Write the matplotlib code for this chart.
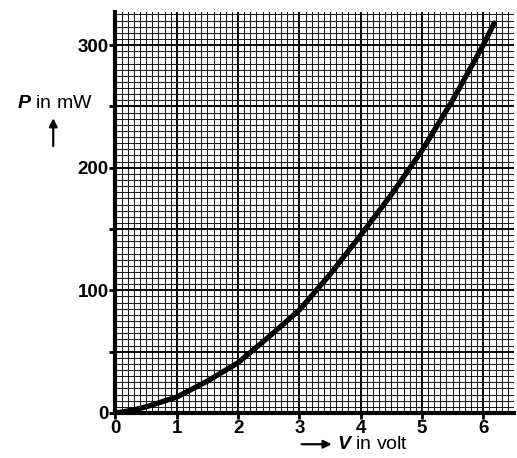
import matplotlib
matplotlib.use("agg")
import matplotlib.pyplot as plt
from matplotlib.ticker import MultipleLocator, FuncFormatter

plt.rcParams['font.family'] = ['Liberation Sans', 'DejaVu Sans']
plt.rcParams['mathtext.fontset'] = 'custom'
plt.rcParams['mathtext.it'] = 'Liberation Sans:bold:italic'

# readings (V in volt, P in mW)
volt = [0, 0.25, 0.5, 0.75, 1.0, 1.5, 2.0, 2.5, 3.0, 3.5, 4.0, 4.5, 5.0, 5.5, 6.0, 6.18]
power = [0, 2, 5, 9, 13, 26, 41, 62, 84, 113, 145, 178, 214, 255, 300, 318]

x_ticks = [0, 1, 2, 3, 4, 5, 6]
y_labels = [0, 100, 200, 300]

fig = plt.figure(figsize=(5.17, 4.58), dpi=100)
ax = fig.add_axes([0.2234, 0.0983, 0.7706, 0.8755])

ax.set_xlim(0, 6.5)
ax.set_ylim(0, 327)

# graph paper
ax.xaxis.set_minor_locator(MultipleLocator(0.1))
ax.yaxis.set_minor_locator(MultipleLocator(5))
ax.grid(which='minor', color='#1e1e1e', linewidth=0.75)
ax.set_xticks(x_ticks)
ax.yaxis.set_major_locator(MultipleLocator(50))
ax.grid(which='major', color='black', linewidth=1.4)
ax.yaxis.set_major_formatter(FuncFormatter(lambda v, p: "%d" % v if int(v) in y_labels else ""))
ax.set_axisbelow(True)

ax.plot(volt, power, color='black', linewidth=3.8, solid_capstyle='round', zorder=3)

for s in ['top', 'right']:
    ax.spines[s].set_visible(False)
for s in ['left', 'bottom']:
    ax.spines[s].set_linewidth(3)
    ax.spines[s].set_zorder(4)

ax.tick_params(which='major', direction='out', length=4, width=2, pad=1,
               labelsize=13.5)
ax.tick_params(which='minor', length=0)
for lab in ax.get_xticklabels() + ax.get_yticklabels():
    lab.set_fontweight('bold')

# axis labels
fig.text(0.033, 0.775, r"$\mathit{P}$ in mW", fontsize=14, va='center', ha='left')
fig.add_artist(matplotlib.patches.FancyArrowPatch((0.103, 0.675), (0.103, 0.748),
               transform=fig.transFigure, arrowstyle='-|>', mutation_scale=12,
               color='black', linewidth=1.6))
fig.add_artist(matplotlib.patches.FancyArrowPatch((0.578, 0.030), (0.647, 0.030),
               transform=fig.transFigure, arrowstyle='-|>', mutation_scale=12,
               color='black', linewidth=1.6))
fig.text(0.651, 0.030, r"$\mathit{V}$ in volt", fontsize=14, va='center', ha='left')

fig.savefig("out.png", dpi=100)
